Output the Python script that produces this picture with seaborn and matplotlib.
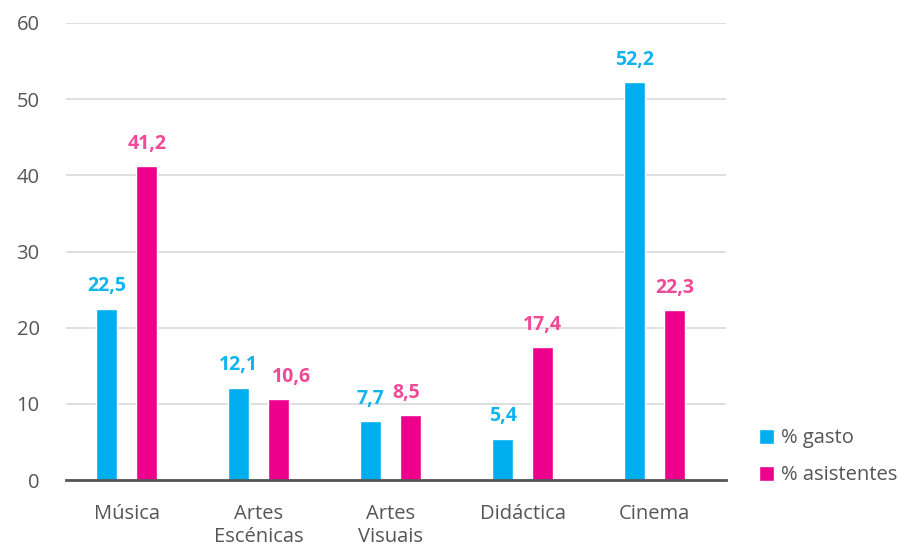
import matplotlib
matplotlib.use("Agg")
import matplotlib.pyplot as plt
import seaborn as sns
import pandas as pd

categories = ["Música", "Artes\nEscénicas", "Artes\nVisuais", "Didáctica", "Cinema"]
gasto = [22.5, 12.1, 7.7, 5.4, 52.2]
asistentes = [41.2, 10.6, 8.5, 17.4, 22.3]
series_names = ["% gasto", "% asistentes"]
y_ticks = [0, 10, 20, 30, 40, 50, 60]

bar_colors = ["#00AEEF", "#EC008C"]
label_colors = ["#12B4EE", "#EE4A98"]
text_grey = "#555555"

df = pd.DataFrame({
    "categoria": categories * 2,
    "valor": gasto + asistentes,
    "serie": [series_names[0]] * len(categories) + [series_names[1]] * len(categories),
})

sns.set_theme(style="white")
plt.rcParams["font.family"] = ["Open Sans", "DejaVu Sans"]

fig = plt.figure(figsize=(9.21, 5.46), dpi=100)
ax = fig.add_axes([66 / 921, 66 / 546, 660 / 921, 457 / 546])

sns.barplot(data=df, x="categoria", y="valor", hue="serie",
            palette=bar_colors, width=0.606, gap=0.47,
            saturation=1, ax=ax, legend=True)

ax.set_xlim(-0.46, 4.54)
ax.set_ylim(0, 60)
ax.set_yticks(y_ticks)
ax.yaxis.grid(True, color="#D9D9D9", linewidth=1.2)
ax.set_axisbelow(True)
for s in ["top", "right", "left"]:
    ax.spines[s].set_visible(False)
ax.spines["bottom"].set_color("#555555")
ax.spines["bottom"].set_linewidth(2)
ax.set_xlabel("")
ax.set_ylabel("")
ax.tick_params(axis="both", length=0, colors=text_grey, labelsize=14.5)
ax.tick_params(axis="y", pad=19)
ax.tick_params(axis="x", pad=17)
for t in ax.get_xticklabels():
    t.set_linespacing(1.25)

# value labels above each bar, with small nudges where labels would collide
nudges = {(1, 1): 9, (2, 1): -3}
for si, container in enumerate(ax.containers):
    vals = [gasto, asistentes][si]
    for ci, bar in enumerate(container):
        v = vals[ci]
        dx = nudges.get((ci, si), 0)
        ax.annotate(f"{v:.1f}".replace(".", ","),
                    xy=(bar.get_x() + bar.get_width() / 2, v),
                    xytext=(dx, 9), textcoords="offset points",
                    ha="center", va="bottom", fontsize=14,
                    fontweight="bold", color=label_colors[si])

leg = ax.legend(loc="upper left", bbox_to_anchor=(693 / 660, 0.113),
                bbox_transform=ax.transAxes, frameon=False, fontsize=14.5,
                handlelength=0.75, handleheight=0.75, handletextpad=0.35,
                labelspacing=0.85, borderaxespad=0, borderpad=0)
for t in leg.get_texts():
    t.set_color(text_grey)

fig.savefig("out.png", dpi=100)
